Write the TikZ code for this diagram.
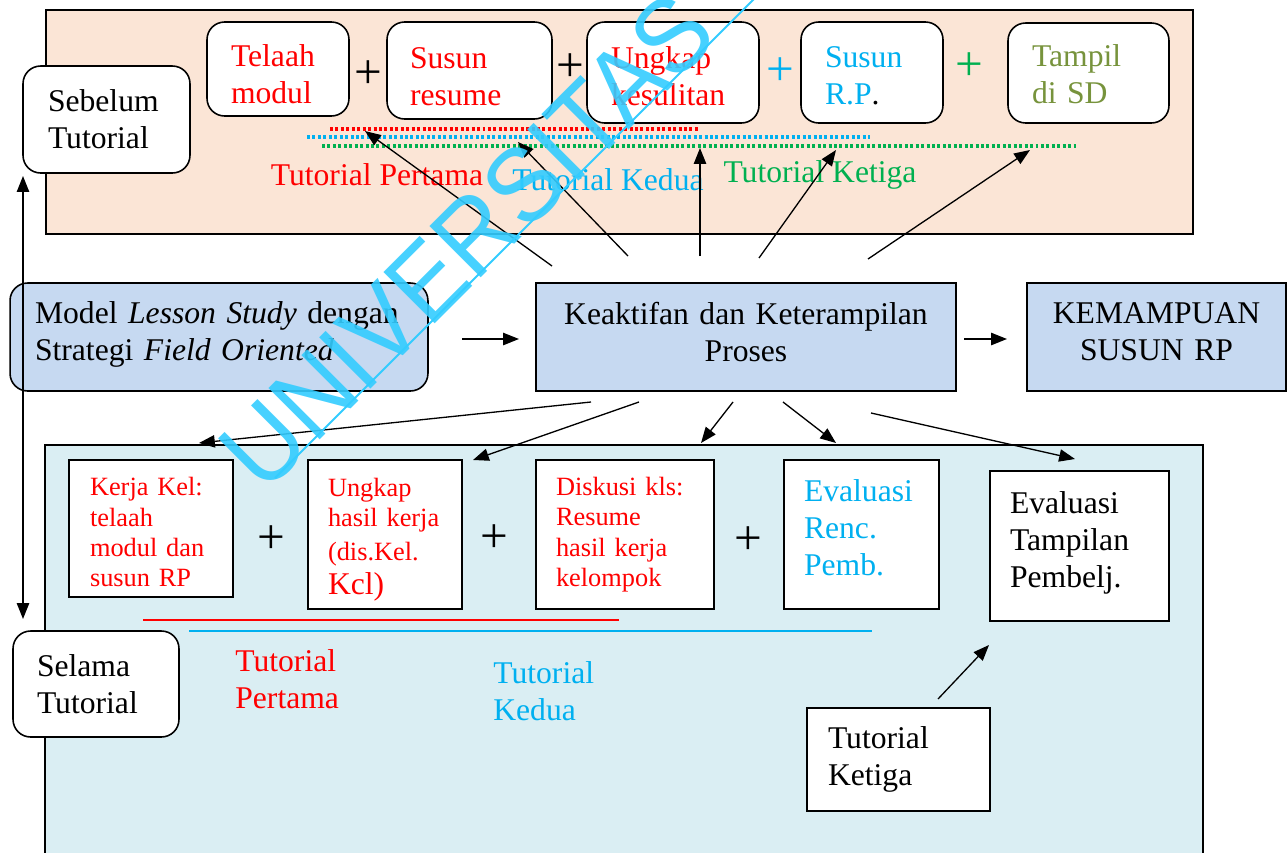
\documentclass[tikz,border=0pt]{standalone}
\usepackage{fontspec}
\setmainfont{Liberation Serif}
\newfontfamily\wmfont{Liberation Sans}
\usetikzlibrary{arrows.meta}
\definecolor{peach}{RGB}{251,229,214}
\definecolor{paleblue}{RGB}{218,238,243}
\definecolor{boxblue}{RGB}{198,217,241}
\definecolor{tcyan}{RGB}{0,176,240}
\definecolor{tgreen}{RGB}{0,176,80}
\definecolor{tolive}{RGB}{119,147,60}
\definecolor{wmcyan}{RGB}{51,204,255}
\newcommand{\txtdown}[1]{\rule{0pt}{#1}} % taller first line
\newcommand{\txtup}[1]{\rule[-#1]{0pt}{#1}} % deeper last line
\tikzset{
    rbox/.style={ % rounded white box
        rectangle,
        rounded corners=10pt,
        fill=white,
        draw=black,
        line width=0.9pt,
        align=left,
        inner ysep=0pt
        },
    sbox/.style={ % square white box
        rbox,
        sharp corners
        },
    bbox/.style={ % blue box
        rectangle,
        fill=boxblue,
        draw=black,
        line width=0.9pt,
        align=center,
        inner ysep=0pt,
        minimum height=2.16cm
        },
    rbbox/.style={ % rounded blue box
        bbox,
        rounded corners=10pt,
        align=left
        },
    smalltxt/.style={
        font=\fontsize{15}{17.3}\selectfont
        },
    plus/.style={
        inner sep=0pt,
        font=\fontsize{28}{28}\selectfont
        },
    lbl/.style={
        inner sep=0pt
        },
    tut/.style={ % dotted tutorial line
        line width=1.8pt,
        dash pattern=on 1.7pt off 1.4pt
        },
    arrout/.style={
        -{Triangle[length=9pt,width=7pt]},
        line width=0.75pt
        },
    arrb/.style={
        {Triangle[length=9pt,width=7pt]}-{Triangle[length=9pt,width=7pt]},
        line width=0.75pt
        }
}
\begin{document}
\begin{tikzpicture}[x=0.02cm,y=-0.02cm,font=\fontsize{18}{21}\selectfont]
    \useasboundingbox (0,0) rectangle (1288,852);
    \clip (0,0) rectangle (1288,852);

    %%%%% panels
    \draw[fill=peach,line width=0.9pt] (46,10) rectangle (1193,234);
    \draw[fill=paleblue,line width=0.9pt] (45,445) rectangle (1203,880);

    %%%%% before tutorial
    \node[rbox,text width=2.34cm,inner xsep=0.5cm,minimum height=2.14cm] (sebelum) at (106.5,119.5) {Sebelum\\Tutorial};
    \node[rbox,text width=1.88cm,inner xsep=0.48cm,minimum height=1.88cm,text=red] (telaah) at (278,69) {\txtdown{18pt}Telaah\\modul};
    \node[plus] (p1) at (368,75) {+};
    \node[rbox,text width=2.38cm,inner xsep=0.46cm,minimum height=1.94cm,text=red] (resume) at (469.5,70.5) {\txtdown{18.5pt}Susun\\resume};
    \node[plus] (p2) at (570,68) {+};
    \node[rbox,text width=2.48cm,inner xsep=0.48cm,minimum height=2.02cm,text=red] (sulit) at (673,72.5) {\txtdown{16.8pt}Ungkap\\kesulitan};
    \node[plus,text=tcyan] (p3) at (780,72) {+};
    \node[rbox,text width=1.88cm,inner xsep=0.48cm,minimum height=2.02cm,text=tcyan] (susunrp) at (872,72.5) {\txtdown{15.7pt}Susun\\R.P\textcolor{black}{.}};
    \node[plus,text=tgreen] (p4) at (969,67) {+};
    \node[rbox,text width=2.26cm,inner xsep=0.48cm,minimum height=2.0cm,text=tolive] (tampil) at (1088.5,73) {\txtdown{14pt}Tampil\\di SD};

    %%%%% dotted lines
    \draw[tut,red] (330,129) -- (700,129);
    \draw[tut,tcyan] (307,137) -- (870,137);
    \draw[tut,tgreen] (322,146) -- (1076,146);
    \node[lbl,text=red] (tp1) at (377,175) {Tutorial Pertama};
    \node[lbl,text=tcyan] (tk1) at (608,180) {Tutorial Kedua};
    \node[lbl,text=tgreen] (tg1) at (820,175) {Tutorial Ketiga};

    %%%%% middle row
    \node[rbbox,text width=7.36cm,inner xsep=0.5cm] (model) at (219,337) {Model \textit{Lesson Study} dengan\\Strategi \textit{Field Oriented}\txtup{7.3pt}};
    \node[bbox,text width=7.6cm,inner xsep=0.4cm] (aktif) at (746,337) {Keaktifan dan Keterampilan\\Proses\txtup{5.7pt}};
    \node[bbox,text width=4.38cm,inner xsep=0.4cm] (mampu) at (1156.5,337) {KEMAMPUAN\\SUSUN RP\txtup{5.7pt}};

    %%%%% during tutorial
    \node[rbox,text width=2.36cm,inner xsep=0.48cm,minimum height=2.12cm] (selama) at (96,684) {Selama\\Tutorial};
    \node[sbox,smalltxt,text width=2.44cm,inner xsep=0.42cm,minimum height=2.74cm,text=red] (kerja) at (151,528.5) {\txtdown{14.7pt}Kerja Kel:\\telaah\\modul dan\\susun RP};
    \node[plus] (p5) at (271,540) {+};
    \node[sbox,smalltxt,text width=2.28cm,inner xsep=0.4cm,minimum height=2.98cm,text=red] (hasil) at (385,534.5) {\txtdown{15.9pt}Ungkap\\hasil kerja\\[2pt](dis.Kel.\\[2pt]{\fontsize{18}{21}\selectfont Kcl)}};
    \node[plus] (p6) at (494.5,539) {+};
    \node[sbox,smalltxt,text width=2.76cm,inner xsep=0.4cm,minimum height=2.98cm,text=red] (diskusi) at (625,534.5) {Diskusi kls:\\Resume\\hasil kerja\\kelompok};
    \node[plus] (p7) at (748,541) {+};
    \node[sbox,text width=2.3cm,inner xsep=0.4cm,minimum height=2.98cm,text=tcyan] (evrenc) at (861.5,534.5) {Evaluasi\\Renc.\\Pemb.\txtup{8pt}};
    \node[sbox,text width=2.78cm,inner xsep=0.4cm,minimum height=3.0cm] (evtamp) at (1079.5,546) {Evaluasi\\Tampilan\\Pembelj.\txtup{7.3pt}};
    \node[sbox,text width=2.82cm,inner xsep=0.42cm,minimum height=2.06cm] (ketiga) at (898.5,759.5) {Tutorial\\Ketiga};

    %%%%% solid lines
    \draw[red,line width=1pt] (143,620) -- (619,620);
    \draw[tcyan,line width=1pt] (189,631) -- (872,631);
    \node[lbl,align=left,anchor=west,text=red] (tp2) at (235,679) {Tutorial\\Pertama};
    \node[lbl,align=left,anchor=west,text=tcyan] (tk2) at (493,691) {Tutorial\\Kedua};

    %%%%% arrow ends
    \coordinate (s1) at (552,266); \coordinate (t1) at (365,131);
    \coordinate (s2) at (628,256); \coordinate (t2) at (518,142);
    \coordinate (s3) at (700,256); \coordinate (t3) at (700,148);
    \coordinate (s4) at (759,258); \coordinate (t4) at (836,150);
    \coordinate (s5) at (868,259); \coordinate (t5) at (1030,150);
    \coordinate (m1) at (462,339); \coordinate (m2) at (519,339);
    \coordinate (m3) at (964,339); \coordinate (m4) at (1007,339);
    \coordinate (b1) at (591,402); \coordinate (c1) at (199,443);
    \coordinate (b2) at (639,402); \coordinate (c2) at (473,460);
    \coordinate (b3) at (733,402); \coordinate (c3) at (701,443);
    \coordinate (b4) at (783,402); \coordinate (c4) at (836,443);
    \coordinate (b5) at (871,413); \coordinate (c5) at (1075,459);
    \coordinate (k1) at (938,699); \coordinate (k2) at (989,645);
    \coordinate (v1) at (23,176); \coordinate (v2) at (23,619);

    %%%%% arrows
    \draw[arrout] (s1) -- (t1);
    \draw[arrout] (s2) -- (t2);
    \draw[arrout] (s3) -- (t3);
    \draw[arrout] (s4) -- (t4);
    \draw[arrout] (s5) -- (t5);
    \draw[arrout] (m1) -- (m2);
    \draw[arrout] (m3) -- (m4);
    \draw[arrout] (b1) -- (c1);
    \draw[arrout] (b2) -- (c2);
    \draw[arrout] (b3) -- (c3);
    \draw[arrout] (b4) -- (c4);
    \draw[arrout] (b5) -- (c5);
    \draw[arrout] (k1) -- (k2);
    \draw[arrb] (v1) -- (v2);

    %%%%% watermark
    \node[inner sep=0pt,rotate=45,text=wmcyan,font=\wmfont\fontsize{60}{60}\selectfont,opacity=0.9] (wm) at (467,241) {\scalebox{0.93}[1]{UNIVERSITAS}};
    \draw[wmcyan,line width=1.1pt] (275,478) -- (800,-47);
\end{tikzpicture}
\end{document}
